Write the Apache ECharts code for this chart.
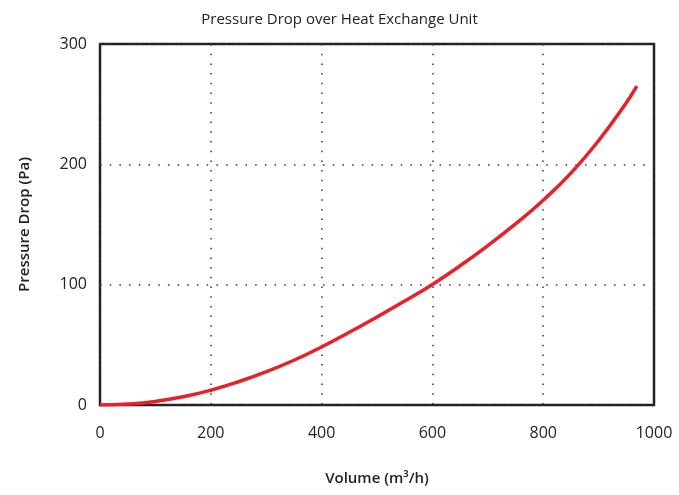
<!DOCTYPE html>
<html><head><meta charset="utf-8">
<script src="https://cdn.jsdelivr.net/npm/echarts@6/dist/echarts.min.js"></script>
<style>html,body{margin:0;padding:0;background:#fff}#c{width:679px;height:495px}</style>
</head><body><div id="c"></div>
<script>
const volume = [0, 50, 100, 150, 200, 250, 300, 350, 400, 450, 500, 550, 600, 650, 700, 750, 800, 850, 900, 950, 969];
const pressure = [0, 0.8, 3, 6.8, 12.3, 19.3, 27.6, 37.2, 48.2, 60.4, 73.2, 86.4, 100.2, 115.7, 132.5, 150.5, 170.2, 192.7, 219.7, 251.2, 265];
const xTicks = [0, 200, 400, 600, 800, 1000];
const yTicks = [0, 100, 200, 300];

const chart = echarts.init(document.getElementById('c'));
const font = '"Open Sans", Lato, sans-serif';
chart.setOption({
  animation: false,
  backgroundColor: '#fff',
  title: {
    text: 'Pressure Drop over Heat Exchange Unit',
    left: 'center', top: 7,
    textStyle: { fontFamily: font, fontSize: 15, fontWeight: 'normal', color: '#222' }
  },
  grid: { left: 100, right: 25, top: 44, bottom: 90, show: true, borderColor: '#222', borderWidth: 2.5, backgroundColor: 'transparent' },
  xAxis: {
    type: 'value', min: xTicks[0], max: xTicks[xTicks.length - 1], interval: 200,
    name: 'Volume (m³/h)', nameLocation: 'middle', nameGap: 66,
    nameTextStyle: { fontFamily: font, fontSize: 15, color: '#222', fontWeight: 600 },
    axisLine: { show: false }, axisTick: { show: false },
    axisLabel: { fontFamily: font, fontSize: 16, color: '#222', margin: 20, formatter: v => String(v) },
    splitLine: { show: true, lineStyle: { color: '#333', width: 1.5, type: [1.5, 8.2] } }
  },
  yAxis: {
    type: 'value', min: yTicks[0], max: yTicks[yTicks.length - 1], interval: 100,
    name: 'Pressure Drop (Pa)', nameLocation: 'middle', nameGap: 68, nameRotate: 90,
    nameTextStyle: { fontFamily: font, fontSize: 15, color: '#222', fontWeight: 600 },
    axisLine: { show: false }, axisTick: { show: false },
    axisLabel: { fontFamily: font, fontSize: 16, color: '#222', margin: 13, formatter: v => String(v) },
    splitLine: { show: true, lineStyle: { color: '#333', width: 1.5, type: [1.5, 8.2] } }
  },
  series: [{
    type: 'line', smooth: 0.5, showSymbol: false,
    data: volume.map((v, i) => [v, pressure[i]]),
    lineStyle: { color: '#e8202a', width: 3.5 }
  }]
});
</script></body></html>
